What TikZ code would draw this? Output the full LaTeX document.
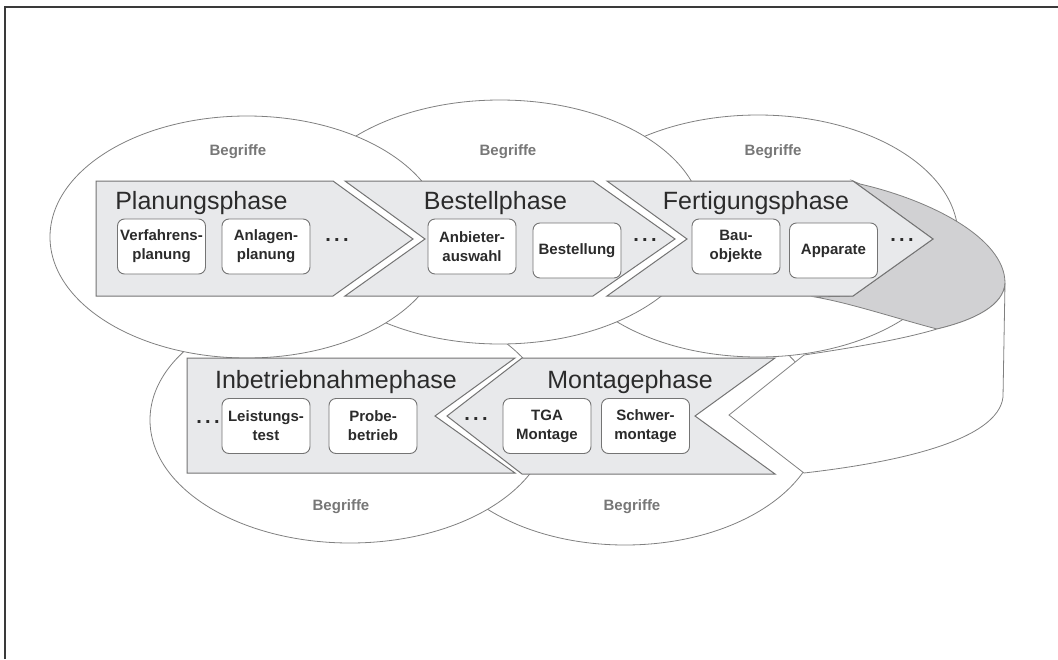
\documentclass[tikz,border=0pt]{standalone}
\usepackage{fontspec}
\setmainfont{Liberation Sans}
\definecolor{framegray}{HTML}{3A3A3A}
\definecolor{linegray}{HTML}{808080}
\definecolor{edgegray}{HTML}{747474}
\definecolor{phasegray}{HTML}{E8E9EB}
\definecolor{bandgray}{HTML}{D1D1D3}
\definecolor{textgray}{HTML}{2B2B2B}
\definecolor{labelgray}{HTML}{777777}

\begin{document}
\begin{tikzpicture}[x=1pt, y=-1pt,
    bubble/.style={draw=linegray, fill=white, line width=0.8pt},
    chevron/.style={draw=edgegray, fill=phasegray, line width=1pt},
    task/.style={draw=edgegray, fill=white, rounded corners=7pt, line width=0.9pt,
      minimum width=88pt, minimum height=55pt, inner sep=1pt, align=center,
      font=\fontsize{15}{19}\selectfont\bfseries, text=textgray},
    phasetitle/.style={anchor=base, inner sep=0pt, text=textgray,
      font=\fontsize{25}{30}\selectfont},
    more/.style={inner sep=0pt, text=textgray, font=\fontsize{20}{24}\selectfont\bfseries},
    begriff/.style={inner sep=0pt, text=labelgray, font=\fontsize{15}{18}\selectfont\bfseries}]
  \useasboundingbox (0,0) rectangle (1058,659);
  \draw[line width=2.5pt, framegray] (5,659) -- (5,7) -- (1058,7);

  % lower ellipses, then upper ones on top
  \draw[bubble] (625,422) ellipse [x radius=195, y radius=123];
  \draw[bubble] (350,420) ellipse [x radius=200, y radius=123];
  \draw[bubble] (758,236) ellipse [x radius=200, y radius=121];
  \draw[bubble] (500,222) ellipse [x radius=203, y radius=122];
  \draw[bubble] (247,237) ellipse [x radius=197, y radius=121];

  \node[begriff] (b1) at (238,152) {Begriffe};
  \node[begriff] (b2) at (508,152) {Begriffe};
  \node[begriff] (b3) at (773,152) {Begriffe};
  \node[begriff] (b4) at (341,507) {Begriffe};
  \node[begriff] (b5) at (632,507) {Begriffe};

  % band turning round at the right
  \draw[bubble, fill=bandgray] (853,181) -- (860,184)
    .. controls (930,200) and (1005,238) .. (1005,283)
    .. controls (1004,305) and (975,320) .. (937,329)
    .. controls (895,318) and (850,303) .. (815,297)
    -- (853,296) -- (933,239) -- cycle;
  \draw[bubble] (729,415) -- (804,355)
    .. controls (850,348) and (900,340) .. (937,329)
    .. controls (975,320) and (1004,305) .. (1005,283)
    -- (1003,397)
    .. controls (998,440) and (900,462) .. (804,473) -- cycle;

  % phases
  \draw[chevron] (96,181) -- (333,181) -- (413,239) -- (333,296) -- (96,296) -- cycle;
  \draw[chevron] (345,181) -- (593,181) -- (675,239) -- (593,296) -- (345,296) -- (425,239) -- cycle;
  \draw[chevron] (607,181) -- (853,181) -- (933,239) -- (853,296) -- (607,296) -- (687,239) -- cycle;
  \draw[chevron] (187,358) -- (515,358) -- (435,416) -- (515,473) -- (187,473) -- cycle;
  \draw[chevron] (522,358) -- (775,358) -- (695,416) -- (775,474) -- (522,474) -- (447,416) -- cycle;

  \node[phasetitle] (planung) at (201.5,209) {Planungsphase};
  \node[phasetitle] (bestell) at (495.5,209) {Bestellphase};
  \node[phasetitle] (fertigung) at (756,209) {Fertigungsphase};
  \node[phasetitle] (inbetrieb) at (336,388) {Inbetriebnahmephase};
  \node[phasetitle] (montage) at (630,388) {Montagephase};

  \node[task] (verfahren) at (161.5,246.5) {Verfahrens-\\planung};
  \node[task] (anlagen) at (266,246.5) {Anlagen-\\planung};
  \node[more] (more1) at (337,240) {.\,.\,.};
  \node[task] (anbieter) at (472,246.5) {Anbieter-\\auswahl};
  \node[task, yshift=-4pt] (bestellung) at (577,246.5) {Bestellung};
  \node[more] (more2) at (645,240) {.\,.\,.};
  \node[task] (bauobj) at (736,246.5) {Bau-\\objekte};
  \node[task, yshift=-4pt] (apparate) at (833.5,246.5) {Apparate};
  \node[more] (more3) at (902,240) {.\,.\,.};

  \node[more] (more4) at (208,422) {.\,.\,.};
  \node[task] (leistung) at (266,426) {Leistungs-\\test};
  \node[task] (probe) at (373,426) {Probe-\\betrieb};
  \node[more] (more5) at (476,419) {.\,.\,.};
  \node[task] (tga) at (547,426) {TGA\\Montage};
  \node[task] (schwer) at (645.5,426) {Schwer-\\montage};
\end{tikzpicture}
\end{document}
